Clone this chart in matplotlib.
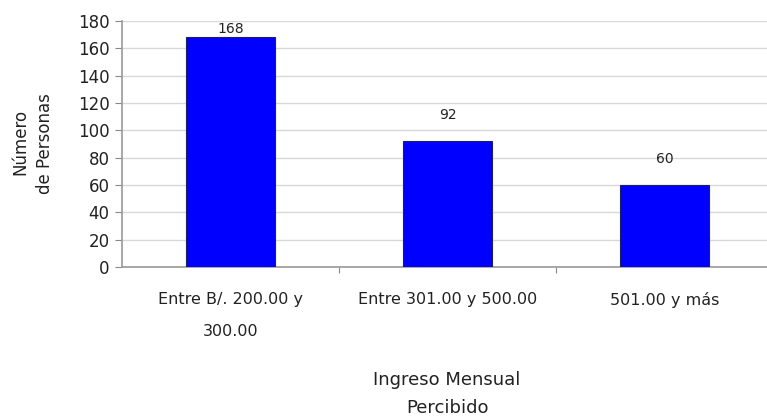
import matplotlib
matplotlib.use("Agg")
import matplotlib.pyplot as plt

categories = ["Entre B/. 200.00 y\n300.00", "Entre 301.00 y 500.00", "501.00 y más"]
values = [168, 92, 60]
yticks = [0, 20, 40, 60, 80, 100, 120, 140, 160, 180]

plt.rcParams['font.family'] = ['DejaVu Sans']
fig = plt.figure(figsize=(7.67, 4.16), dpi=100)
ax = fig.add_axes([122/767, 1-267/416, 651/767, (267-21)/416])

x = list(range(len(categories)))
ax.bar(x, values, width=0.41, color="#0000FF", edgecolor="#202060", linewidth=0.8, zorder=3)
offsets = [1, 14, 14]
for xi, v, off in zip(x, values, offsets):
    ax.annotate(str(v), (xi, v), xytext=(0, off), textcoords="offset points",
                ha="center", va="bottom", fontsize=10, color="#222222")

ax.set_xlim(-0.5, len(categories) - 0.5)
ax.set_ylim(0, 180)
ax.set_yticks(yticks)
ax.tick_params(axis='y', labelsize=12, length=5, color="#888888", pad=4, labelcolor="#222222")
ax.set_xticks([0.5, 1.5])
ax.set_xticklabels([])
ax.tick_params(axis='x', length=4, color="#888888")
for xi, c in zip(x, categories):
    ax.annotate(c, (xi, 0), xytext=(0, -25), textcoords="offset pixels",
                ha="center", va="top", fontsize=11.5, linespacing=2.4, color="#222222")
ax.grid(axis='y', color="#d8d8d8", linewidth=1, zorder=0)
for s in ["top", "right"]:
    ax.spines[s].set_visible(False)
for s in ["left", "bottom"]:
    ax.spines[s].set_color("#999999")
    ax.spines[s].set_linewidth(1.2)

fig.text(447/767, 1-380/416, "Ingreso Mensual", ha="center", va="center", fontsize=13, color="#222222")
fig.text(447/767, 1-408/416, "Percibido", ha="center", va="center", fontsize=13, color="#222222")
fig.text(20/767, 1-142/416, "Número", rotation=90, ha="center", va="center", fontsize=12, color="#222222")
fig.text(45/767, 1-144/416, "de Personas", rotation=90, ha="center", va="center", fontsize=12, color="#222222")

fig.savefig("out.png", dpi=100)
